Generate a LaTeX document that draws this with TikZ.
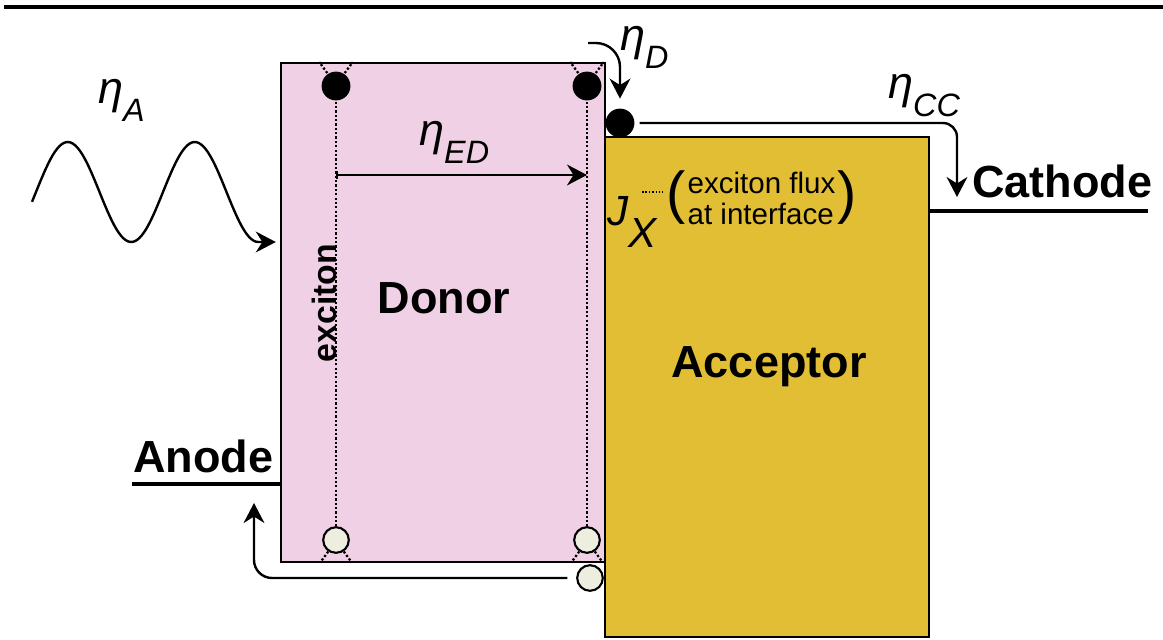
\documentclass[tikz,border=0pt]{standalone}
\usepackage{fontspec}
\setmainfont{Liberation Sans}
\usetikzlibrary{arrows.meta, positioning, calc}
\definecolor{cpink}{HTML}{F0D0E4}
\definecolor{cgold}{HTML}{E2BE34}
\definecolor{cpale}{HTML}{EEEEE0}
\newcommand{\lowsub}[1]{\raisebox{-13pt}{\fontsize{23}{23}\selectfont #1}}
\tikzset{
  every picture/.style={line width=1.7pt},
  layer/.style={draw=black, fill=#1, line width=1.6pt, minimum width=8.1cm, inner sep=0pt},
  lbl/.style={font=\fontsize{32}{32}\selectfont\bfseries, inner sep=0pt},
  eta/.style={font=\fontsize{32}{32}\selectfont\itshape, inner sep=0pt, anchor=base west},
  electron/.style={circle, fill=black, minimum size=0.72cm, inner sep=0pt},
  hole/.style={circle, draw=black, fill=cpale, line width=1.5pt, minimum size=0.64cm, inner sep=0pt},
  arrow/.style={-{Stealth[length=5mm, width=5.2mm]}, line width=1.7pt},
  track/.style={line width=1.6pt, dash pattern=on 1.6pt off 1.5pt},
  electrode/.style={line width=2.9pt},
}

\begin{document}
\begin{tikzpicture}[x=0.025cm, y=0.025cm]
  \useasboundingbox (0,0) rectangle (1163,-639);
  \draw[line width=2.4pt] (4,-7) -- (1163,-7);
  % layers
  \node[layer=cgold, minimum height=12.5cm] (acceptor) at (767,-387) {};
  \node[layer=cpink, minimum height=12.475cm] (donor) at (443,-312.5) {};
  % electrodes
  \coordinate (anl) at (132,-484);
  \coordinate (cal) at (1148,-211);
  \draw[electrode] (anl) -- (anl -| donor.west);
  \draw[electrode] (cal -| acceptor.east) -- (cal);
  \node[lbl, anchor=base west] (anode) at (132,-472) {Anode};
  \node[lbl, anchor=base west] (cathode) at (971,-197) {Cathode};
  \node[lbl, anchor=base] (donorlbl) at (444,-313) {Donor};
  \node[lbl, anchor=base] (acclbl) at (769,-377) {Acceptor};
  % charges
  \node[electron] (e1) at (336,-86) {};
  \node[electron] (e2) at (587,-86) {};
  \node[electron] (e3) at (620,-123) {};
  \node[hole] (h1) at (336,-540) {};
  \node[hole] (h2) at (587,-540) {};
  \node[hole] (h3) at (590,-578) {};
  \draw[track] (e1) -- (h1);
  \draw[track] (e2) -- (h2);
  \draw[track] (e1.124) -- +(-8,11);
  \draw[track] (e1.56) -- +(8,11);
  \draw[track] (e2.124) -- +(-8,11);
  \draw[track] (e2.56) -- +(8,11);
  \draw[track] (h1.-124) -- +(-8,-11);
  \draw[track] (h1.-56) -- +(8,-11);
  \draw[track] (h2.-124) -- +(-8,-11);
  \draw[track] (h2.-56) -- +(8,-11);
  \node[font=\fontsize{24}{24}\selectfont\bfseries, rotate=90, anchor=base, inner sep=0pt] (exlbl) at (336,-303) {exciton};
  % light in
  \coordinate (wv) at (258,-242);
  \draw[arrow, shorten >=1mm] plot[domain=32:258, samples=100] (\x, {-192 + 50*sin((\x-36)*2.8346)}) -- (wv -| donor.west);
  \node[eta] (etaA) at (97,-103) {η\lowsub{A}};
  % diffusion
  \draw[{Bar[width=2mm]}-{Stealth[length=5mm, width=5.2mm]}] ($(e1)!0.196!(h1)$) -- ($(e2)!0.196!(h2)$);
  \node[eta] (etaED) at (418,-145) {η\lowsub{ED}};
  % dissociation and collection
  \coordinate (dsrc) at (588,-43);
  \draw[arrow, rounded corners=6mm, shorten >=2.2mm] (dsrc) -| (e3);
  \node[eta] (etaD) at (619,-50) {η\lowsub{D}};
  \coordinate (cctip) at (957,-197);
  \draw[arrow, rounded corners=3.5mm, shorten <=1mm] (e3) -| (cctip);
  \node[eta] (etaCC) at (887,-98) {η\lowsub{CC}};
  \coordinate (antip) at (254,-503);
  \draw[arrow, rounded corners=4.5mm, shorten <=2.2mm] (h3) -| (antip);
  % flux at interface
  \node[anchor=base west, inner sep=0pt, font=\fontsize{30}{30}\selectfont\itshape] (jx) at (606,-225) {J\raisebox{-16pt}{X}};
  \draw[track, line width=1.1pt, dash pattern=on 1.1pt off 1.3pt] (642,-192) -- (663,-192);
  \node[inner sep=0pt, align=left, font=\fontsize{21}{22}\selectfont] (flux) at (761.5,-198) {exciton flux\\at interface};
  \node[inner sep=0pt, font=\fontsize{41}{41}\selectfont, left=0pt of flux] (lpar) {(};
  \node[inner sep=0pt, font=\fontsize{41}{41}\selectfont, right=0pt of flux] (rpar) {)};
\end{tikzpicture}
\end{document}
